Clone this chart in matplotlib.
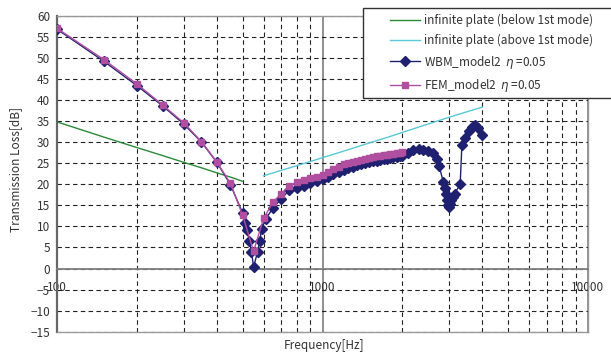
import numpy as np
import matplotlib
matplotlib.use("Agg")
import matplotlib.pyplot as plt
import matplotlib.transforms as mtransforms
from matplotlib.ticker import LogLocator, NullFormatter
from matplotlib.patches import Rectangle

plt.rcParams['font.family'] = ['Noto Sans CJK JP', 'DejaVu Sans']
plt.rcParams['font.size'] = 8.5
plt.rcParams['text.color'] = '#333333'
plt.rcParams['xtick.color'] = '#333333'
plt.rcParams['ytick.color'] = '#333333'

# infinite plate, below 1st mode
f_below = [100, 150, 200, 250, 300, 350, 400, 450, 500]
tl_below = [34.8, 31.2, 28.7, 26.8, 25.2, 23.9, 22.7, 21.7, 20.7]

# infinite plate, above 1st mode
f_above = [600, 700, 800, 900, 1000, 1250, 1500, 1750, 2000, 2500, 3000, 3500, 4000]
tl_above = [22.0, 23.3, 24.4, 25.4, 26.3, 28.2, 29.8, 31.1, 32.3, 34.3, 35.9, 37.2, 38.3]

# WBM model 2, eta = 0.05
f_wbm = [100, 150, 200, 250, 300, 350, 400, 450, 500, 510, 520, 530, 540, 550,
         570, 580, 590, 610, 650, 700, 750, 800, 850, 900, 950, 1000, 1050,
         1100, 1150, 1200, 1250, 1300, 1350, 1400, 1450, 1500, 1550, 1600,
         1650, 1700, 1750, 1800, 1850, 1900, 1950, 2000, 2100, 2200, 2300,
         2400, 2500, 2600, 2700, 2750, 2850, 2900, 2925, 2950, 2975, 3000,
         3025, 3050, 3100, 3150, 3300, 3350, 3450, 3550, 3650, 3750, 3850, 4000]
tl_wbm = [56.8, 49.2, 43.4, 38.6, 34.3, 30.0, 25.2, 19.9, 13.2, 10.8, 9.1, 6.5,
          4.0, 0.4, 4.0, 6.6, 9.3, 11.7, 14.3, 16.6, 18.6, 19.1, 19.5, 20.2,
          20.8, 21.3, 21.7, 22.4, 23.0, 23.4, 23.8, 24.2, 24.5, 24.8, 25.0,
          25.2, 25.4, 25.6, 25.8, 26.0, 26.1, 26.3, 26.4, 26.5, 26.6, 26.8,
          27.3, 28.2, 28.3, 28.2, 27.9, 27.3, 26.1, 24.3, 20.6, 19.0, 17.8,
          16.2, 15.0, 14.6, 15.4, 16.2, 17.0, 17.8, 20.0, 29.3, 30.9, 32.6,
          33.6, 34.0, 33.3, 31.8]

# FEM model 2, eta = 0.05
f_fem = list(range(100, 2001, 50))
tl_fem = [57.0, 49.6, 43.8, 38.8, 34.6, 30.1, 25.3, 20.2, 12.7, 4.1, 11.9, 15.7,
          17.8, 19.6, 20.5, 21.0, 21.4, 21.8, 22.2, 22.9, 23.6, 24.2, 24.7,
          25.0, 25.3, 25.6, 25.8, 26.1, 26.3, 26.5, 26.6, 26.8, 26.9, 27.0,
          27.1, 27.2, 27.4, 27.5, 27.6]

W, H = 611, 360
fig = plt.figure(figsize=(W / 100, H / 100), dpi=100)
ax = fig.add_axes([57 / W, 1 - 331.7 / H, (588 - 57) / W, (331.7 - 15.7) / H])

ax.plot(f_below, tl_below, color='#2a8a3a', lw=1.0, zorder=3)
ax.plot(f_above, tl_above, color='#5bc8d6', lw=1.0, zorder=3)
l_wbm, = ax.plot(f_wbm, tl_wbm, color='#1f2170', lw=1.0, marker='D',
                 markersize=4.8, zorder=4)
l_fem, = ax.plot(f_fem, tl_fem, color='#b04ea0', lw=1.0, marker='s',
                 markersize=5, zorder=5)

ax.set_xscale('log')
ax.set_xlim(100, 10000)
ax.set_ylim(-15, 60)
ax.set_yticks(range(-15, 61, 5))
ax.set_yticklabels([str(v).replace('-', '\u2212') for v in range(-15, 61, 5)])
ax.set_xticks([100, 1000, 10000], ['100', '1000', '10000'])
ax.xaxis.set_minor_locator(LogLocator(base=10, subs=range(2, 10)))
ax.xaxis.set_minor_formatter(NullFormatter())

dash = (0, (4, 3))
ax.set_axisbelow(True)
ax.yaxis.grid(True, ls=dash, color='#222222', lw=0.8)
ax.xaxis.grid(True, which='minor', ls=dash, color='#222222', lw=0.8)
ax.xaxis.grid(True, which='major', ls='-', color='#888888', lw=1.3)

ax.tick_params(axis='both', which='both', length=0)
ax.tick_params(axis='x', pad=9)
ax.tick_params(axis='y', pad=5)

# first x label sits a little right of the axis, as in the original
first = ax.get_xticklabels()[0]
first.set_transform(first.get_transform() +
                    mtransforms.ScaledTranslation(5 / 100, 0, fig.dpi_scale_trans))

# x axis crosses at 0 dB, labels hang under it
ax.spines['bottom'].set_position(('data', 0))
ax.spines['bottom'].set_color('#7f7f7f')
ax.spines['bottom'].set_linewidth(1.3)
ax.spines['left'].set_color('#666666')
ax.spines['left'].set_linewidth(1.6)
for s in ['top', 'right']:
    ax.spines[s].set_color('#999999')
    ax.spines[s].set_linewidth(1.0)
ax.plot([0, 1], [0, 0], transform=ax.transAxes, color='#999999', lw=1.0,
        clip_on=False, zorder=6)

fig.text(16 / W, 1 - 169 / H, 'Transmission Loss[dB]', rotation=90,
         ha='center', va='center')
fig.text(324 / W, 1 - 345 / H, 'Frequency[Hz]', ha='center', va='center')

# legend box runs off the right edge
box = Rectangle((363 / W, 1 - 98 / H), 400 / W, 90 / H, transform=fig.transFigure,
                facecolor='white', edgecolor='#333333', lw=1.0, zorder=5)
fig.patches.append(box)

l_below = plt.Line2D([], [], color='#2a8a3a', lw=1.0)
l_above = plt.Line2D([], [], color='#5bc8d6', lw=1.0)
leg = fig.legend([l_below, l_above, l_wbm, l_fem],
                 ['infinite plate (below 1st mode)',
                  'infinite plate (above 1st mode)',
                  r'WBM_model2  $\eta$ =0.05',
                  r'FEM_model2  $\eta$ =0.05'],
                 loc='upper left', bbox_to_anchor=(390 / W, 1 - 14 / H),
                 bbox_transform=fig.transFigure, frameon=False,
                 borderpad=0, borderaxespad=0, handlelength=2.55,
                 handletextpad=0.3, labelspacing=0.55, fontsize=8.5)
leg.set_zorder(10)

fig.savefig('out.png', dpi=100)
